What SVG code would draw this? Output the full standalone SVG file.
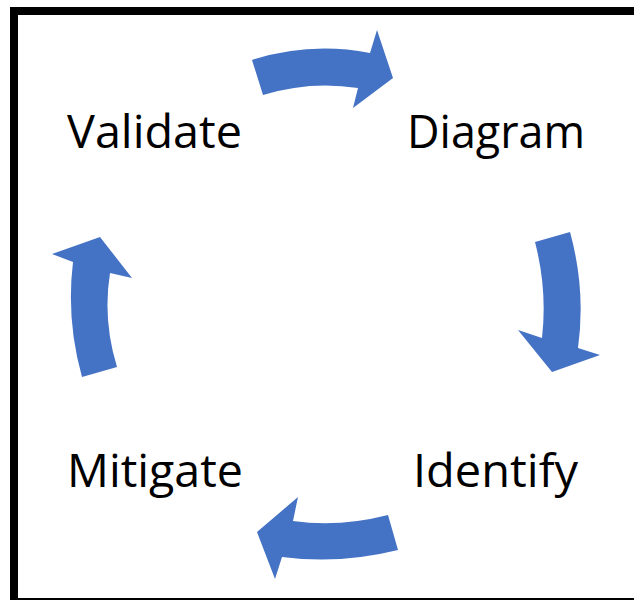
<svg xmlns="http://www.w3.org/2000/svg" width="634" height="600" viewBox="0 0 634 600">
  <style>
    .frame { fill: #ffffff; stroke: #000000; stroke-width: 8; }
    .arrow { fill: #4472C4; }
    .label { font-family: "Open Sans", "Noto Sans", sans-serif; font-size: 45px; fill: #000000; }
  </style>
  <rect class="frame" x="14" y="11" width="640" height="591"/>

  <!-- cycle arrows -->
  <g id="connectors">
    <path id="arrow-validate-diagram" class="arrow" d="M252,60 Q310,41.5 370,53 L377,30 L393,78 L353,108 L358,88 Q310,80.5 263,95 Z"/>
    <path id="arrow-diagram-identify" class="arrow" d="M535,242 L570,232 Q586,290 578,348 L600,355 L552,372 L518,330 L542,338 Q547.5,290 535,242 Z"/>
    <path id="arrow-identify-mitigate" class="arrow" d="M388,515 L398,550 Q340,564.5 282,557 L275,579 L257,532 L298,497 L293,521 Q340,527.4 388,515 Z"/>
    <path id="arrow-mitigate-validate" class="arrow" d="M82,377 L117,367 Q102.5,320 110,273 L132,278 L100,237 L52,254 L73,262 Q66,320 82,377 Z"/>
  </g>

  <g id="validate">
    <text class="label" x="67" y="148" textLength="175" lengthAdjust="spacingAndGlyphs">Validate</text>
  </g>
  <g id="diagram">
    <text class="label" x="407" y="148" textLength="178" lengthAdjust="spacingAndGlyphs">Diagram</text>
  </g>
  <g id="identify">
    <text class="label" x="413" y="487" textLength="165" lengthAdjust="spacingAndGlyphs">Identify</text>
  </g>
  <g id="mitigate">
    <text class="label" x="67" y="487" textLength="176" lengthAdjust="spacingAndGlyphs">Mitigate</text>
  </g>
</svg>
